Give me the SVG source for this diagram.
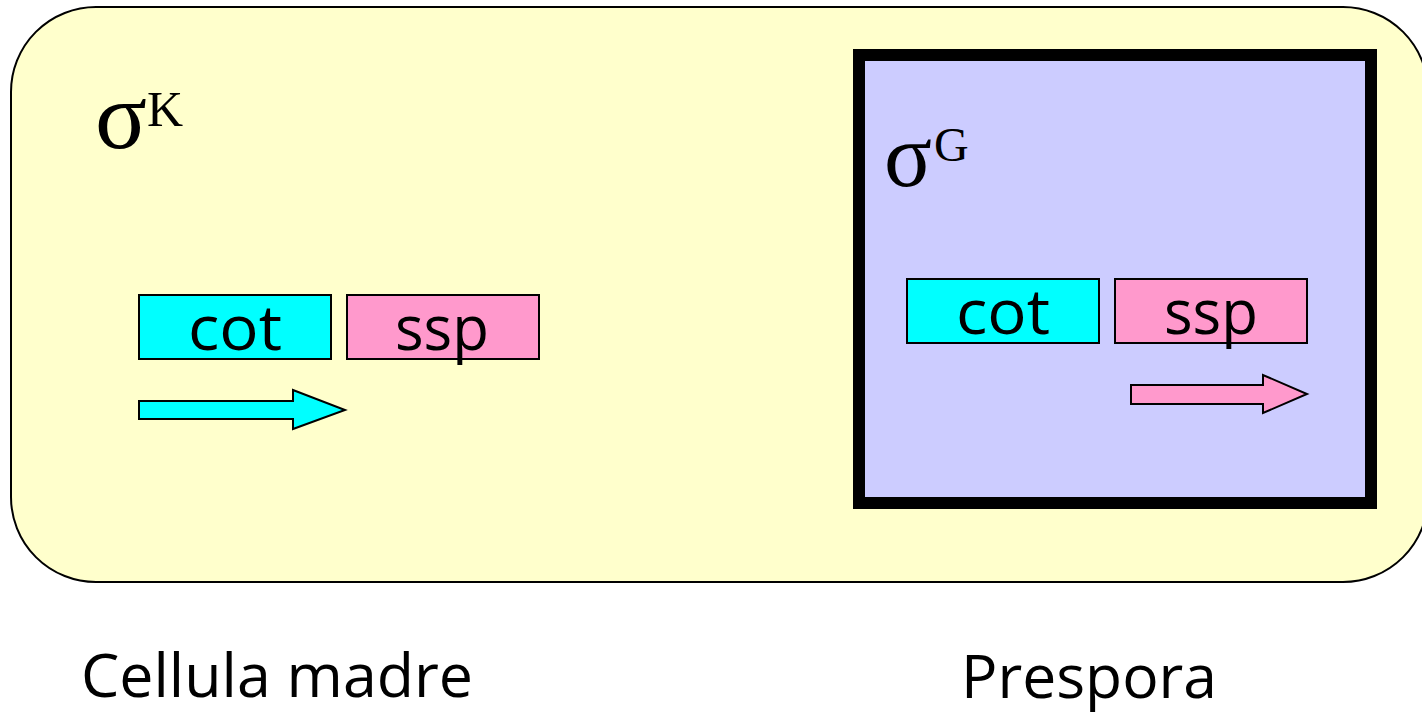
<svg xmlns="http://www.w3.org/2000/svg" width="1422" height="718" viewBox="0 0 1422 718">
<style>
.gene{stroke:#000;stroke-width:2}
.cot{fill:#00FFFF}
.ssp{fill:#FF99CC}
.lbl{font-family:"Open Sans","DejaVu Sans",sans-serif;fill:#000}
.sig{font-family:"Liberation Serif","Times New Roman",serif;fill:#000}
.arr{stroke:#000;stroke-width:2;stroke-linejoin:miter}
</style>
<rect width="1422" height="718" fill="#FFFFFF"/>
<g id="cell">
<rect x="11" y="7" width="1417" height="575" rx="85" ry="85" fill="#FFFFCC" stroke="#000" stroke-width="2"/>
<text class="sig" x="95" y="148" font-size="96" textLength="52" lengthAdjust="spacingAndGlyphs">σ</text>
<text class="sig" x="147" y="126" font-size="50">K</text>
</g>
<g id="prespore">
<rect x="859" y="55" width="512" height="448" fill="#CCCCFF" stroke="#000" stroke-width="12"/>
<text class="sig" x="884" y="186" font-size="92" textLength="48" lengthAdjust="spacingAndGlyphs">σ</text>
<text class="sig" x="934" y="161" font-size="48">G</text>
</g>
<g id="cot-left">
<rect class="gene cot" x="139" y="295" width="192" height="64"/>
<text class="lbl" x="235" y="350" font-size="62" text-anchor="middle" textLength="94" lengthAdjust="spacingAndGlyphs">cot</text>
</g>
<g id="ssp-left">
<rect class="gene ssp" x="347" y="295" width="192" height="64"/>
<text class="lbl" x="442" y="350" font-size="62" text-anchor="middle" textLength="94" lengthAdjust="spacingAndGlyphs">ssp</text>
</g>
<g id="cot-right">
<rect class="gene cot" x="907" y="279" width="192" height="64"/>
<text class="lbl" x="1003" y="334" font-size="62" text-anchor="middle" textLength="94" lengthAdjust="spacingAndGlyphs">cot</text>
</g>
<g id="ssp-right">
<rect class="gene ssp" x="1115" y="279" width="192" height="64"/>
<text class="lbl" x="1211" y="334" font-size="62" text-anchor="middle" textLength="94" lengthAdjust="spacingAndGlyphs">ssp</text>
</g>
<g id="connectors">
<polygon class="arr cot" points="139,401 293,401 293,390 345,410 293,429 293,419 139,419"/>
<polygon class="arr ssp" points="1131,385 1263,385 1263,375 1307,394 1263,413 1263,404 1131,404"/>
</g>
<g id="labels">
<text class="lbl" x="81" y="697" font-size="60" textLength="392" lengthAdjust="spacingAndGlyphs">Cellula madre</text>
<text class="lbl" x="961" y="698" font-size="60" textLength="256" lengthAdjust="spacingAndGlyphs">Prespora</text>
</g>
</svg>
